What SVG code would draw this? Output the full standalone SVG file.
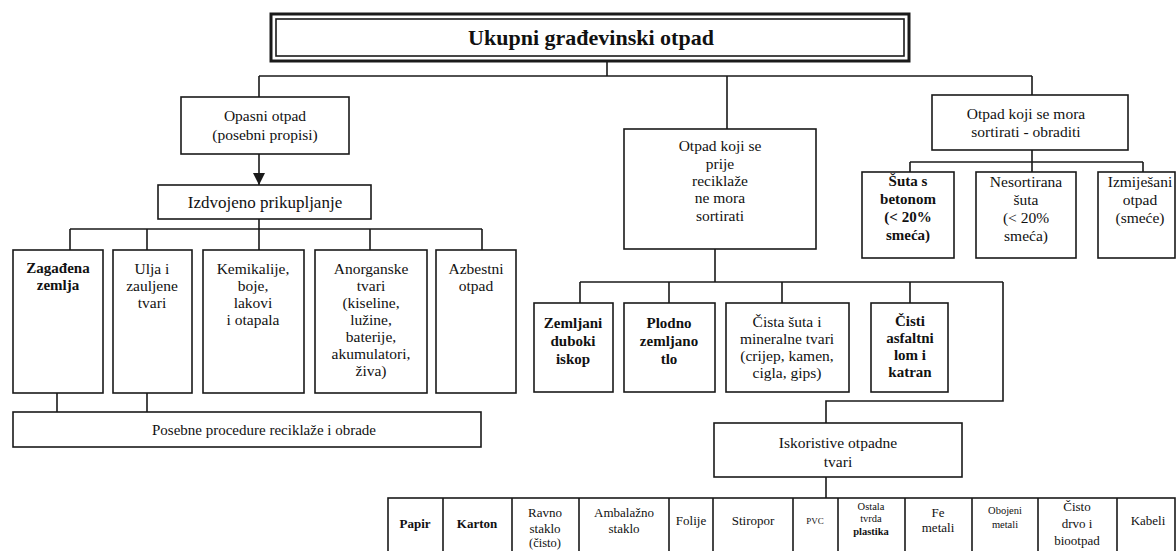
<svg xmlns="http://www.w3.org/2000/svg" width="1176" height="551" viewBox="0 0 1176 551">
<defs>
<style>
.box{fill:#fff;stroke:#1a1a1a;stroke-width:1.6}
.ln{fill:none;stroke:#1a1a1a;stroke-width:1.6}
text{font-family:"Liberation Serif","Times New Roman",serif;fill:#111;text-anchor:middle;dominant-baseline:central}
.t{font-size:15.5px}
.b{font-size:15px;font-weight:bold}
.tc{font-size:13px}
.tb{font-size:13px;font-weight:bold}
.ts{font-size:10.5px}
.tsb{font-size:10.5px;font-weight:bold}
.title{font-size:22px;font-weight:bold}
</style>
<marker id="arr" markerWidth="12" markerHeight="12" refX="12" refY="6" orient="auto" markerUnits="userSpaceOnUse" viewBox="0 0 12 12">
<path d="M0,0 L12,6 L0,12 Z" fill="#1a1a1a"/>
</marker>
</defs>
<rect width="1176" height="551" fill="#fff"/>

<g id="connectors">
<path class="ln" d="M607,61 V76 M259,76 H1032 M259,76 V97 M727,76 V129 M1032,76 V95"/>
<path class="ln" d="M259,154 V185" marker-end="url(#arr)"/>
<path class="ln" d="M259,219 V229 M70,229 H482 M70,229 V250 M147,229 V250 M259,229 V250 M370,229 V250 M482,229 V250"/>
<path class="ln" d="M57,393 V412 M147,393 V412"/>
<path class="ln" d="M715,249 V282 M580,282 H1003 M580,282 V303 M669,282 V303 M782,282 V303 M910,282 V303 M1003,282 V401 H826 V423 M826,477 V498"/>
<path class="ln" d="M1032,150 V162 M910,162 H1143 M910,162 V172 M1032,162 V172 M1143,162 V172"/>
</g>

<g id="title">
<rect x="271" y="14" width="638" height="47" fill="#fff" stroke="#1a1a1a" stroke-width="3"/>
<rect x="276" y="19" width="628" height="37" fill="none" stroke="#1a1a1a" stroke-width="1.6"/>
<text class="title" x="591" y="37">Ukupni građevinski otpad</text>
</g>

<g id="opasni">
<rect class="box" x="181" y="97" width="168" height="57"/>
<text class="t" x="265" y="115">Opasni otpad</text>
<text class="t" x="265" y="134">(posebni propisi)</text>
</g>

<g id="izdvojeno">
<rect class="box" x="158" y="185" width="213" height="34"/>
<text class="t" x="265" y="202" style="font-size:17px">Izdvojeno prikupljanje</text>
</g>

<g id="zagadjena">
<rect class="box" x="13" y="250" width="90" height="143"/>
<text class="b" x="58" y="268">Zagađena</text>
<text class="b" x="58" y="285">zemlja</text>
</g>

<g id="ulja">
<rect class="box" x="113" y="250" width="79" height="143"/>
<text class="t" x="152" y="268">Ulja i</text>
<text class="t" x="152" y="285">zauljene</text>
<text class="t" x="152" y="302">tvari</text>
</g>

<g id="kemikalije">
<rect class="box" x="203" y="250" width="101" height="143"/>
<text class="t" x="253" y="268">Kemikalije,</text>
<text class="t" x="253" y="285">boje,</text>
<text class="t" x="253" y="302">lakovi</text>
<text class="t" x="253" y="319">i otapala</text>
</g>

<g id="anorganske">
<rect class="box" x="315" y="250" width="112" height="143"/>
<text class="t" x="371" y="268">Anorganske</text>
<text class="t" x="371" y="285">tvari</text>
<text class="t" x="371" y="302">(kiseline,</text>
<text class="t" x="371" y="319">lužine,</text>
<text class="t" x="371" y="336">baterije,</text>
<text class="t" x="371" y="353">akumulatori,</text>
<text class="t" x="371" y="370">živa)</text>
</g>

<g id="azbestni">
<rect class="box" x="436" y="250" width="80" height="143"/>
<text class="t" x="476" y="268">Azbestni</text>
<text class="t" x="476" y="285">otpad</text>
</g>

<g id="posebne">
<rect class="box" x="13" y="412" width="468" height="35"/>
<text class="t" x="264" y="430" style="font-size:15px">Posebne procedure reciklaže i obrade</text>
</g>

<g id="prije">
<rect class="box" x="624" y="129" width="192" height="120"/>
<text class="t" x="720" y="145">Otpad koji se</text>
<text class="t" x="720" y="163">prije</text>
<text class="t" x="720" y="180">reciklaže</text>
<text class="t" x="720" y="197">ne mora</text>
<text class="t" x="720" y="215">sortirati</text>
</g>

<g id="zemljani">
<rect class="box" x="534" y="303" width="79" height="89"/>
<text class="b" x="573" y="323">Zemljani</text>
<text class="b" x="573" y="341">duboki</text>
<text class="b" x="573" y="359">iskop</text>
</g>

<g id="plodno">
<rect class="box" x="624" y="303" width="91" height="89"/>
<text class="b" x="669" y="323">Plodno</text>
<text class="b" x="669" y="341">zemljano</text>
<text class="b" x="669" y="359">tlo</text>
</g>

<g id="cista">
<rect class="box" x="726" y="303" width="123" height="89"/>
<text class="t" x="787" y="321">Čista šuta i</text>
<text class="t" x="787" y="338">mineralne tvari</text>
<text class="t" x="787" y="355">(crijep, kamen,</text>
<text class="t" x="787" y="372">cigla, gips)</text>
</g>

<g id="asfaltni">
<rect class="box" x="871" y="303" width="77" height="89"/>
<text class="b" x="910" y="321">Čisti</text>
<text class="b" x="910" y="338">asfaltni</text>
<text class="b" x="910" y="355">lom i</text>
<text class="b" x="910" y="372">katran</text>
</g>

<g id="iskoristive">
<rect class="box" x="714" y="423" width="248" height="54"/>
<text class="t" x="838" y="442">Iskoristive otpadne</text>
<text class="t" x="838" y="461">tvari</text>
</g>

<g id="mora">
<rect class="box" x="932" y="95" width="196" height="55"/>
<text class="t" x="1026" y="113">Otpad koji se mora</text>
<text class="t" x="1026" y="131">sortirati - obraditi</text>
</g>

<g id="suta">
<rect class="box" x="862" y="172" width="92" height="86"/>
<text class="b" x="908" y="181">Šuta s</text>
<text class="b" x="908" y="199">betonom</text>
<text class="b" x="908" y="217">(&lt; 20%</text>
<text class="b" x="908" y="235">smeća)</text>
</g>

<g id="nesortirana">
<rect class="box" x="976" y="172" width="100" height="86"/>
<text class="t" x="1026" y="181">Nesortirana</text>
<text class="t" x="1026" y="199">šuta</text>
<text class="t" x="1026" y="217">(&lt; 20%</text>
<text class="t" x="1026" y="235">smeća)</text>
</g>

<g id="izmijesani">
<rect class="box" x="1098" y="172" width="77" height="86"/>
<text class="t" x="1140" y="181">Izmiješani</text>
<text class="t" x="1140" y="199">otpad</text>
<text class="t" x="1140" y="217">(smeće)</text>
</g>

<g id="table">
<rect class="box" x="388" y="498" width="787" height="56"/>
<path class="ln" d="M443,498 V554 M512,498 V554 M579,498 V554 M669,498 V554 M713,498 V554 M793,498 V554 M838,498 V554 M905,498 V554 M972,498 V554 M1038,498 V554 M1117,498 V554"/>
<text class="tb" x="415" y="523">Papir</text>
<text class="tb" x="477" y="523">Karton</text>
<text class="tc" x="545" y="512">Ravno</text>
<text class="tc" x="545" y="528">staklo</text>
<text class="tc" x="545" y="543" style="font-size:12.5px">(čisto)</text>
<text class="tc" x="624" y="512">Ambalažno</text>
<text class="tc" x="624" y="528">staklo</text>
<text class="tc" x="691" y="520">Folije</text>
<text class="tc" x="753" y="520">Stiropor</text>
<text class="ts" x="815" y="521" style="font-size:9px">PVC</text>
<text class="ts" x="871" y="506">Ostala</text>
<text class="ts" x="871" y="518">tvrda</text>
<text class="tsb" x="871" y="531">plastika</text>
<text class="tc" x="938" y="512">Fe</text>
<text class="tc" x="938" y="527">metali</text>
<text class="ts" x="1005" y="510">Obojeni</text>
<text class="ts" x="1005" y="524">metali</text>
<text class="tc" x="1077" y="506">Čisto</text>
<text class="tc" x="1077" y="523">drvo i</text>
<text class="tc" x="1077" y="540">biootpad</text>
<text class="tc" x="1148" y="520">Kabeli</text>
</g>
</svg>
